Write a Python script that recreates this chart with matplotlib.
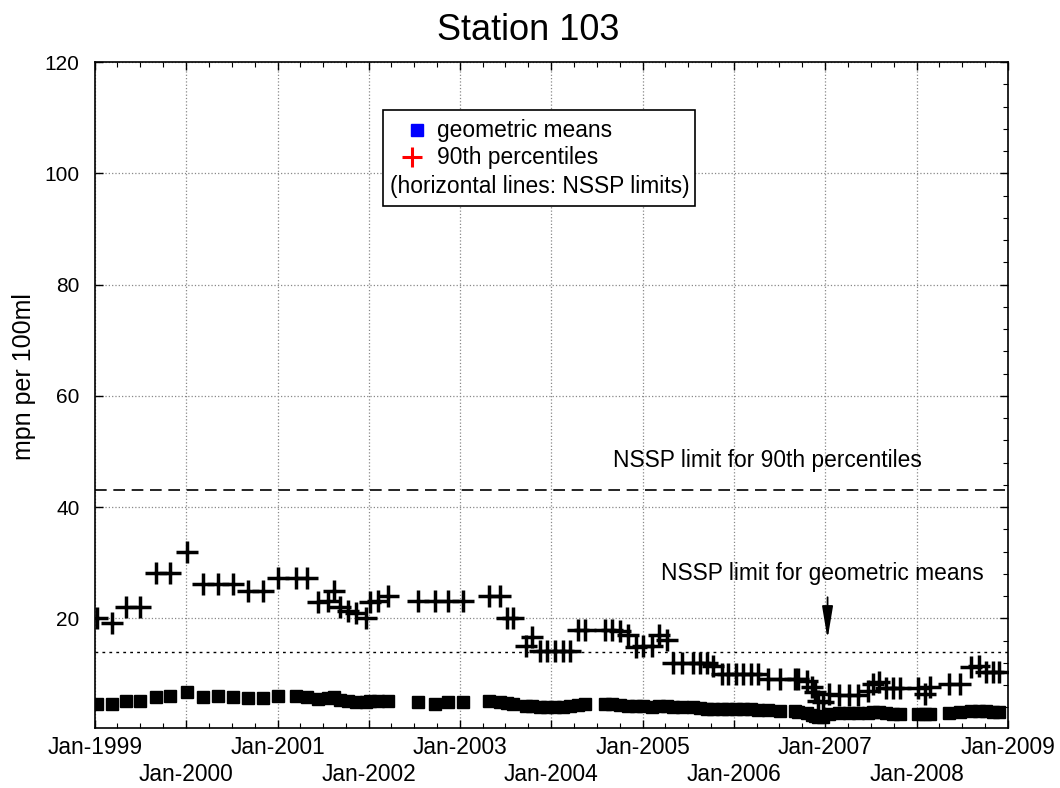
import matplotlib
matplotlib.use("Agg")
import matplotlib.pyplot as plt
import matplotlib.dates as mdates
import pandas as pd
from matplotlib.patches import Rectangle

plt.rcParams['font.family'] = ['Liberation Sans', 'DejaVu Sans']

dates = [
    "1999-01-08", "1999-03-10", "1999-05-05", "1999-07-01", "1999-09-01", "1999-10-30",
    "2000-01-03", "2000-03-10", "2000-05-08", "2000-07-05", "2000-09-06", "2000-11-03",
    "2001-01-02", "2001-03-17", "2001-04-27", "2001-06-10", "2001-07-20", "2001-08-15",
    "2001-09-09", "2001-10-08", "2001-11-10", "2001-12-20", "2002-01-05", "2002-02-07",
    "2002-03-18", "2002-07-16", "2002-09-24", "2002-11-14", "2003-01-12", "2003-04-28",
    "2003-06-10", "2003-07-06", "2003-07-31", "2003-09-21", "2003-10-16", "2003-11-18",
    "2003-12-14", "2004-01-15", "2004-02-17", "2004-03-14", "2004-04-16", "2004-05-16",
    "2004-08-04", "2004-08-30", "2004-10-01", "2004-11-03", "2004-12-03", "2005-01-02",
    "2005-02-07", "2005-03-08", "2005-04-06", "2005-05-02", "2005-06-07", "2005-07-20",
    "2005-08-19", "2005-09-13", "2005-10-09", "2005-11-14", "2005-12-06", "2006-01-09",
    "2006-02-07", "2006-03-08", "2006-04-06", "2006-05-16", "2006-07-02", "2006-09-02",
    "2006-09-13", "2006-10-20", "2006-11-07", "2006-11-22", "2006-12-03", "2006-12-24",
    "2007-01-15", "2007-02-25", "2007-04-06", "2007-05-12", "2007-06-22", "2007-07-10",
    "2007-08-04", "2007-09-02", "2007-09-27", "2007-10-27", "2008-01-08", "2008-02-03",
    "2008-02-25", "2008-05-08", "2008-06-21", "2008-08-04", "2008-09-06", "2008-10-05",
    "2008-11-03", "2008-11-25",
]

p90 = [
    20.0, 19.1, 22.0, 22.0, 28.1, 28.1,
    32.0, 26.1, 26.1, 26.1, 25.0, 25.0,
    27.2, 27.2, 27.2, 22.9, 23.2, 24.9,
    22.0, 21.4, 21.0, 20.0, 23.0, 23.2,
    24.1, 23.1, 23.1, 23.1, 23.1, 24.1,
    24.1, 20.0, 20.0, 15.1, 16.6, 14.1,
    14.1, 14.1, 14.1, 14.1, 18.0, 18.0,
    18.0, 18.0, 17.8, 17.0, 14.8, 15.1,
    15.0, 17.0, 16.2, 12.0, 12.0, 12.0,
    12.0, 12.0, 11.5, 10.0, 10.0, 10.0,
    10.0, 10.0, 10.0, 9.1, 9.1, 9.1,
    9.1, 8.8, 7.6, 6.7, 5.2, 4.9,
    6.4, 6.2, 6.2, 6.2, 7.0, 8.2,
    8.5, 7.4, 7.4, 7.4, 7.4, 6.4,
    7.6, 8.2, 8.2, 11.2, 11.5, 10.3,
    10.3, 10.3,
]

gm = [
    4.7, 4.7, 5.2, 5.2, 5.8, 6.1,
    6.7, 5.9, 6.0, 5.9, 5.7, 5.7,
    6.0, 6.1, 5.9, 5.6, 5.7, 5.8,
    5.3, 5.2, 5.0, 5.0, 5.1, 5.2,
    5.2, 4.9, 4.7, 4.9, 4.9, 5.2,
    5.0, 4.8, 4.6, 4.3, 4.2, 4.1,
    4.0, 4.0, 4.1, 4.2, 4.5, 4.7,
    4.7, 4.6, 4.5, 4.3, 4.2, 4.2,
    4.1, 4.2, 4.3, 4.1, 4.0, 4.0,
    3.9, 3.8, 3.8, 3.7, 3.7, 3.8,
    3.8, 3.7, 3.6, 3.5, 3.4, 3.3,
    3.2, 3.0, 2.7, 2.5, 2.3, 2.2,
    2.9, 3.0, 3.0, 3.0, 3.0, 3.1,
    3.1, 3.0, 2.9, 2.9, 2.9, 2.9,
    2.8, 3.0, 3.1, 3.3, 3.4, 3.3,
    3.2, 3.1,
]

limit_p90 = 43
limit_gm = 14
years = list(range(1999, 2010))
title = "Station 103"
ylabel = "mpn per 100ml"

x = pd.to_datetime(dates)
FS = 16.4

fig = plt.figure(figsize=(10.6, 7.88), dpi=100)
ax = fig.add_axes([95/1060, 1-728/788, 913/1060, 666/788])

ax.plot(x, gm, linestyle='none', marker='s', markersize=8.5, color='black', zorder=3)
ax.plot(x, p90, linestyle='none', marker='+', markersize=16, markeredgewidth=2.5,
        color='black', zorder=3)

ax.axhline(limit_p90, color='black', linestyle=(0, (7, 4)), linewidth=1.2, zorder=2)
ax.axhline(limit_gm, color='black', linestyle=(0, (2, 3)), linewidth=1.0, zorder=2)

ax.set_xlim(pd.Timestamp("1999-01-01"), pd.Timestamp("2009-01-01"))
ax.set_ylim(0.3, 120)

xt = [pd.Timestamp(f"{y}-01-01") for y in years]
ax.set_xticks(xt)
ax.set_xticklabels([("" if i % 2 == 0 else "\n") + f"Jan-{y}" for i, y in enumerate(years)],
                   fontsize=FS)
ax.xaxis.set_minor_locator(mdates.MonthLocator(bymonth=[4, 7, 10]))
ax.set_yticks([20, 40, 60, 80, 100, 120])
ax.set_yticks(list(range(4, 120, 4)), minor=True)
ax.tick_params(axis='y', labelsize=15)
ax.tick_params(which='both', direction='in', top=True, right=True)
ax.tick_params(which='major', length=6, width=1.0, pad=11)
ax.tick_params(which='minor', length=3.5, width=0.8)
ax.tick_params(axis='y', which='minor', left=False)
ax.tick_params(axis='x', which='major', pad=6)

ax.grid(True, which='major', color='#888888', linestyle=':', linewidth=0.9)
for s in ax.spines.values():
    s.set_linewidth(1.2)

fig.text(0.498, 1 - 30/788, title, fontsize=26, ha='center', va='center')
ax.set_ylabel(ylabel, fontsize=18)
ax.yaxis.set_label_coords(-0.065, 0.528)

ax.text(pd.Timestamp("2004-09-05"), 48.3, "NSSP limit for 90th percentiles",
        fontsize=FS, ha='left', va='center')
ax.text(pd.Timestamp("2005-03-15"), 28.1, "NSSP limit for geometric means",
        fontsize=FS, ha='left', va='center')
ax.annotate("", xy=(pd.Timestamp("2007-01-10"), 15.8), xytext=(pd.Timestamp("2007-01-10"), 24.3),
            arrowprops=dict(arrowstyle='-|>,head_length=0.9,head_width=0.15',
                            color='black', lw=1.3, mutation_scale=22))

# legend box drawn manually
ax.add_patch(Rectangle((0.3154, 0.784), 0.3416, 0.144, transform=ax.transAxes,
                       facecolor='white', edgecolor='black', linewidth=1.2, zorder=5))
ax.plot([0.3527], [0.898], transform=ax.transAxes, marker='s', markersize=8,
        color='blue', linestyle='none', zorder=6)
ax.plot([0.347], [0.857], transform=ax.transAxes, marker='+', markersize=15,
        markeredgewidth=2.2, color='red', linestyle='none', zorder=6)
ax.text(0.3746, 0.897, "geometric means", transform=ax.transAxes, fontsize=FS,
        va='center', ha='left', zorder=6)
ax.text(0.3746, 0.856, "90th percentiles", transform=ax.transAxes, fontsize=FS,
        va='center', ha='left', zorder=6)
ax.text(0.323, 0.813, "(horizontal lines: NSSP limits)", transform=ax.transAxes,
        fontsize=FS, va='center', ha='left', zorder=6)

fig.savefig("out.png", dpi=100)
